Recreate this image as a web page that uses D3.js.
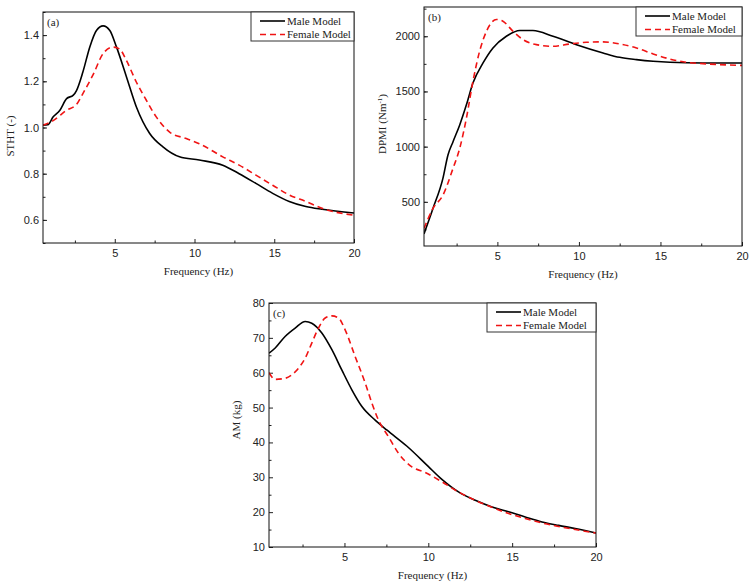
<!DOCTYPE html>
<html>
<head>
<meta charset="utf-8">
<script src="https://cdn.jsdelivr.net/npm/d3@7"></script>
<style>
  body { margin: 0; background: #fff; }
  svg { display: block; font-family: "Liberation Serif", "Times New Roman", serif; }
  .tick text { font-size: 11px; fill: #222; }
</style>
</head>
<body>
<div id="chart"></div>
<script>
// (a) STHT
const sthtMaleF = [0.5, 0.8, 1.14, 1.56, 1.98, 2.4, 2.6, 3.0, 3.44, 3.85, 4.27, 4.69, 5.1, 5.73, 6.35, 7.19, 8.02, 9.06, 10.3, 11.77, 12.8, 13.85, 14.9, 15.94, 16.98, 18.0, 20]
const sthtMaleV = [1.01, 1.012, 1.046, 1.075, 1.125, 1.14, 1.16, 1.24, 1.35, 1.42, 1.44, 1.42, 1.35, 1.22, 1.09, 0.974, 0.916, 0.873, 0.859, 0.837, 0.80, 0.758, 0.715, 0.68, 0.658, 0.646, 0.63]
const sthtFemaleF = [0.5, 1.14, 1.98, 2.6, 3.0, 3.65, 4.27, 4.9, 5.3, 5.73, 6.35, 6.98, 7.6, 8.44, 9.48, 10.3, 11.77, 12.8, 13.85, 14.9, 15.94, 16.98, 18.0, 20]
const sthtFemaleV = [1.01, 1.03, 1.075, 1.10, 1.147, 1.23, 1.32, 1.348, 1.34, 1.29, 1.197, 1.118, 1.046, 0.98, 0.952, 0.93, 0.873, 0.837, 0.794, 0.75, 0.708, 0.68, 0.65, 0.62]

// (b) DPMI
const dpmiMaleF = [0.5, 1.05, 1.66, 1.97, 2.28, 2.69, 3.1, 3.5, 4.12, 4.73, 5.55, 6.37, 7.18, 8.41, 9.85, 11.48, 12.5, 13.53, 14.55, 15.57, 17.6, 20]
const dpmiMaleV = [210, 440, 713, 925, 1045, 1197, 1379, 1576, 1758, 1894, 2000, 2052, 2052, 2000, 1924, 1849, 1809, 1788, 1773, 1764, 1758, 1758]
const dpmiFemaleF = [0.5, 1.05, 1.66, 2.28, 2.69, 3.1, 3.5, 3.91, 4.33, 4.94, 5.34, 5.96, 6.57, 7.39, 8.41, 9.44, 10.46, 11.48, 12.5, 13.53, 14.55, 15.57, 16.6, 17.6, 20]
const dpmiFemaleV = [258, 440, 560, 803, 985, 1258, 1591, 1864, 2045, 2152, 2136, 2045, 1970, 1924, 1909, 1930, 1945, 1949, 1931, 1894, 1840, 1794, 1764, 1752, 1736]

// (c) AM
const amMaleF = [0.5, 0.87, 1.46, 2.06, 2.66, 3.05, 3.65, 4.25, 4.84, 5.44, 6.04, 6.83, 7.54, 8.73, 9.98, 10.81, 11.8, 12.8, 13.8, 14.79, 15.78, 16.78, 17.77, 18.76, 20]
const amMaleV = [65.6, 67.1, 70.4, 72.8, 74.7, 74.2, 71.4, 66.6, 60.8, 55.1, 50.3, 46.4, 43.5, 38.9, 33.2, 29.4, 25.8, 23.4, 21.5, 20.1, 18.6, 17.2, 16.2, 15.3, 14.0]
const amFemaleF = [0.5, 0.87, 1.46, 1.86, 2.26, 2.66, 3.05, 3.45, 3.85, 4.25, 4.65, 5.04, 5.64, 6.24, 6.64, 7.03, 7.63, 8.22, 9.02, 9.81, 10.81, 11.8, 12.8, 13.8, 14.79, 15.78, 16.78, 17.77, 18.76, 20]
const amFemaleV = [60.0, 58.1, 58.4, 59.4, 61.3, 64.2, 68.5, 72.8, 75.7, 76.3, 75.7, 72.3, 64.6, 57.0, 51.2, 46.4, 41.6, 36.9, 33.0, 31.4, 28.7, 25.8, 23.4, 21.4, 19.6, 18.2, 16.9, 15.9, 15.0, 14.0]

const freqTicks = [5, 10, 15, 20]
const freqMinor = [2.5, 7.5, 12.5, 17.5]
const legendNames = ['Male Model', 'Female Model']

const svg = d3.select('#chart').append('svg').attr('width', 752).attr('height', 586)

// 每个子图的位置和坐标设置
const panels = [
  { tag: '(a)', box: [43, 12, 354, 243], yDomain: [0.5, 1.5], yTicks: [0.6, 0.8, 1.0, 1.2, 1.4], yMinor: d3.range(0.5, 1.51, 0.1), fmt: d3.format('.1f'),
    ytitle: 'STHT (-)', ytitleX: 14, ytitleY: 136, male: [sthtMaleF, sthtMaleV], female: [sthtFemaleF, sthtFemaleV], legendW: 103 },
  { tag: '(b)', box: [424, 7, 742, 246], yDomain: [100, 2265], yTicks: [500, 1000, 1500, 2000], yMinor: d3.range(250, 2260, 250), fmt: d3.format('d'),
    ytitle: 'DPMI (Nm', sup: '-1', ytitleX: 386, ytitleY: 124, male: [dpmiMaleF, dpmiMaleV], female: [dpmiFemaleF, dpmiFemaleV], legendW: 106 },
  { tag: '(c)', box: [269, 303, 596, 547], yDomain: [10, 80], yTicks: d3.range(10, 81, 10), yMinor: d3.range(15, 80, 10), fmt: d3.format('d'),
    ytitle: 'AM (kg)', ytitleX: 240, ytitleY: 420, male: [amMaleF, amMaleV], female: [amFemaleF, amFemaleV], legendW: 109 }
]

panels.forEach((p, i) => drawPanel(p, i))

function drawPanel (p, idx) {
  const [x0, y0, x1, y1] = p.box
  const x = d3.scaleLinear().domain([0.5, 20]).range([x0, x1])
  const y = d3.scaleLinear().domain(p.yDomain).range([y1, y0])
  const g = svg.append('g')

  // 坐标轴 (刻度朝内)
  g.append('g').attr('transform', 'translate(0,' + y1 + ')')
    .call(d3.axisBottom(x).tickValues(freqTicks).tickSize(-4).tickPadding(6).tickFormat(d3.format('d')))
    .call(s => s.select('.domain').remove())
  g.append('g').attr('transform', 'translate(0,' + y1 + ')')
    .call(d3.axisBottom(x).tickValues(freqMinor).tickSize(-2.5).tickFormat(''))
    .call(s => s.select('.domain').remove())
  g.append('g').attr('transform', 'translate(' + x0 + ',0)')
    .call(d3.axisLeft(y).tickValues(p.yTicks).tickSize(-4).tickPadding(4).tickFormat(p.fmt))
    .call(s => s.select('.domain').remove())
  g.append('g').attr('transform', 'translate(' + x0 + ',0)')
    .call(d3.axisLeft(y).tickValues(p.yMinor).tickSize(-2.5).tickFormat(''))
    .call(s => s.select('.domain').remove())
  g.selectAll('.tick line').attr('stroke', '#222')

  // 曲线
  const clipId = 'clip' + idx
  svg.append('clipPath').attr('id', clipId).append('rect')
    .attr('x', x0).attr('y', y0).attr('width', x1 - x0).attr('height', y1 - y0)
  const line = d3.line().x(d => x(d[0])).y(d => y(d[1])).curve(d3.curveMonotoneX)
  const maleData = d3.zip(p.male[0], p.male[1])
  const femaleData = d3.zip(p.female[0], p.female[1])
  g.append('path').datum(maleData).attr('clip-path', 'url(#' + clipId + ')')
    .attr('d', line).attr('fill', 'none').attr('stroke', '#000').attr('stroke-width', 1.6)
  g.append('path').datum(femaleData).attr('clip-path', 'url(#' + clipId + ')')
    .attr('d', line).attr('fill', 'none').attr('stroke', '#f01414').attr('stroke-width', 1.6)
    .attr('stroke-dasharray', '6,4')

  // 边框
  g.append('rect').attr('x', x0).attr('y', y0).attr('width', x1 - x0).attr('height', y1 - y0)
    .attr('fill', 'none').attr('stroke', '#111').attr('stroke-width', 1)

  // 图例
  const lw = p.legendW
  const lg = g.append('g').attr('transform', 'translate(' + (x1 - lw) + ',' + y0 + ')')
  lg.append('rect').attr('width', lw).attr('height', 29).attr('fill', '#fff').attr('stroke', '#333').attr('stroke-width', 1)
  legendNames.forEach((name, k) => {
    const cy = 9 + k * 13.5
    lg.append('line').attr('x1', 9).attr('x2', 34).attr('y1', cy).attr('y2', cy)
      .attr('stroke', k === 0 ? '#000' : '#f01414').attr('stroke-width', 1.6)
      .attr('stroke-dasharray', k === 0 ? null : '6,4')
    lg.append('text').attr('x', 36).attr('y', cy + 3.8).attr('font-size', 11).attr('fill', '#222').text(name)
  })

  // 子图编号
  g.append('text').attr('x', x0 + 4).attr('y', y0 + 13.5).attr('font-size', 11).attr('fill', '#222').text(p.tag)

  // 坐标轴标题
  g.append('text').attr('x', (x0 + x1) / 2).attr('y', y1 + 32).attr('text-anchor', 'middle')
    .attr('font-size', 11).attr('fill', '#222').text('Frequency (Hz)')
  const yt = g.append('text').attr('text-anchor', 'middle').attr('font-size', 11).attr('fill', '#222')
    .attr('transform', 'translate(' + p.ytitleX + ',' + p.ytitleY + ') rotate(-90)')
  yt.append('tspan').text(p.ytitle)
  if (p.sup) {
    yt.append('tspan').attr('font-size', 7).attr('dy', -4).text(p.sup)
    yt.append('tspan').attr('dy', 4).text(')')
  }
}
</script>
</body>
</html>
